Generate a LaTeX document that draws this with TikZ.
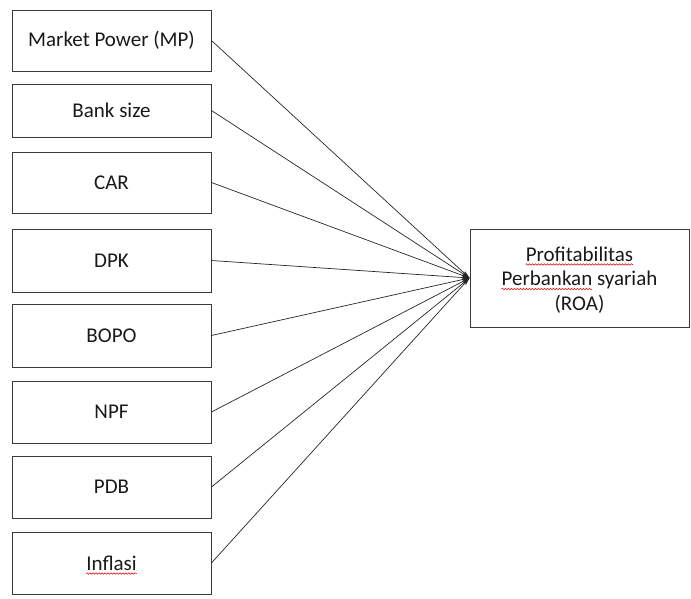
\documentclass[tikz,border=0pt]{standalone}
\usepackage{fontspec}
\setmainfont{Carlito}
\usetikzlibrary{arrows.meta,decorations.pathmorphing}
\definecolor{edge}{HTML}{3A3A3A}
\newlength\firstword
\newcommand\labelfont{\fontsize{21}{25}\selectfont}
\begin{document}
\settowidth\firstword{\labelfont Perbankan}%
\begin{tikzpicture}[x=1pt,y=-1pt,
  varbox/.style={draw=edge,line width=0.9pt,minimum width=199pt,inner sep=0pt,
    font=\labelfont,text=black!90},
  targetbox/.style={draw=edge,line width=0.9pt,minimum width=219pt,minimum height=98pt,inner sep=0pt},
  txt/.style={inner sep=0pt,font=\labelfont,text=black!90},
  spell/.style={draw=red!85!black,line width=0.5pt,
    decorate,decoration={snake,amplitude=0.8pt,segment length=3pt}},
  link/.style={draw=black!85,line width=0.7pt,-{Stealth[length=8pt,width=4pt]}}]
\useasboundingbox (0,0) rectangle (691,598);
% independent variables
\node[varbox,minimum height=61pt] (mp)   at (111.5,40.5)  {Market Power (MP)};
\node[varbox,minimum height=53pt] (size) at (111.5,110.5) {Bank size};
\node[varbox,minimum height=61pt] (car)  at (111.5,182.5) {CAR};
\node[varbox,minimum height=63pt] (dpk)  at (111.5,260.5) {DPK};
\node[varbox,minimum height=63pt] (bopo) at (111.5,335.5) {BOPO};
\node[varbox,minimum height=62pt] (npf)  at (111.5,412)   {NPF};
\node[varbox,minimum height=62pt] (pdb)  at (111.5,487)   {PDB};
\node[varbox,minimum height=62pt] (inf)  at (111.5,563)   {};
\node[txt,anchor=base] (inftxt) at (111.5,570) {Inflasi};
\draw[spell] ([yshift=-3.5pt]inftxt.base west) -- ([yshift=-3.5pt]inftxt.base east);
% dependent variable
\node[targetbox] (roa) at (579.5,278) {};
\node[txt,anchor=base] (l1) at (579.5,261) {Profitabilitas};
\node[txt,anchor=base] (l2) at (579.5,285.5) {Perbankan syariah};
\node[txt,anchor=base] (l3) at (579.5,310) {(ROA)};
\draw[spell] ([yshift=-3.5pt]l1.base west) -- ([yshift=-3.5pt]l1.base east);
\draw[spell] ([yshift=-3.5pt]l2.base west) -- ([yshift=-3.5pt,xshift=\firstword]l2.base west);
% connectors
\foreach \n in {mp,size,car,dpk,bopo,npf,pdb,inf}
  \draw[link] (\n.east) -- (roa.west);
\end{tikzpicture}
\end{document}
